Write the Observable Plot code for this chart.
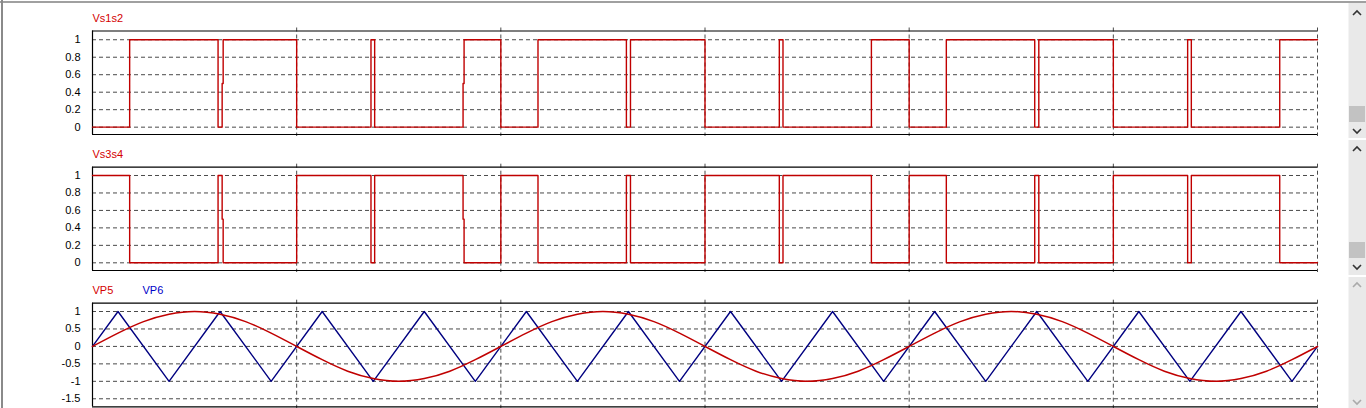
<!DOCTYPE html>
<html>
<head>
<meta charset="utf-8">
<script src="https://cdn.jsdelivr.net/npm/d3@7"></script>
<script src="https://cdn.jsdelivr.net/npm/@observablehq/plot@0.6"></script>
<style>
  html, body { margin: 0; padding: 0; background: #fff; width: 1366px; height: 408px; overflow: hidden; }
  .panel { position: absolute; left: 0; }
  .border-top { position: absolute; left: 0; top: 1px; width: 1366px; height: 2px; background: #a0a0a0; }
  .border-left { position: absolute; left: 1px; top: 0; width: 2px; height: 408px; background: #8a8a8a; }
  .sb { position: absolute; left: 1348px; width: 17px; background: #e9e9e9; border-left: 1px solid #f4f4f4; }
  .thumb { position: absolute; left: 1349px; width: 16px; height: 16px; background: #c2c2c2; }
  .arrow { position: absolute; left: 1350px; }
</style>
</head>
<body>
<div class="border-top"></div>
<div class="border-left"></div>
<div id="p1" class="panel" style="top:0px"></div>
<div id="p2" class="panel" style="top:136px"></div>
<div id="p3" class="panel" style="top:272px"></div>
<div class="sb" style="top:3px;height:135px"></div>
<div class="sb" style="top:140px;height:135px"></div>
<div class="sb" style="top:277px;height:131px"></div>
<div class="thumb" style="top:106px"></div>
<div class="thumb" style="top:242px"></div>
<svg class="arrow" style="top:9px" width="14" height="8"><polyline points="3,6 7,2 11,6" fill="none" stroke="#333" stroke-width="1.6"/></svg>
<svg class="arrow" style="top:127px" width="14" height="8"><polyline points="3,2 7,6 11,2" fill="none" stroke="#333" stroke-width="1.6"/></svg>
<svg class="arrow" style="top:145px" width="14" height="8"><polyline points="3,6 7,2 11,6" fill="none" stroke="#333" stroke-width="1.6"/></svg>
<svg class="arrow" style="top:263px" width="14" height="8"><polyline points="3,2 7,6 11,2" fill="none" stroke="#333" stroke-width="1.6"/></svg>
<svg class="arrow" style="top:281px" width="14" height="8"><polyline points="3,6 7,2 11,6" fill="none" stroke="#aaa" stroke-width="1.6"/></svg>
<svg class="arrow" style="top:398px" width="14" height="8"><polyline points="3,2 7,6 11,2" fill="none" stroke="#aaa" stroke-width="1.6"/></svg>
<script>
// ---- data (time in ms, 3 cycles of the reference sine) ----
const gridTimes = [10, 20, 30, 40, 50, 60];

// Vs1s2 switching edges: [time, level] (level held until next edge)
const vs1s2Time = [0, 1.82, 6.15, 6.35, 6.40, 10, 13.64, 13.82, 18.15, 18.20, 20,
  21.82, 26.15, 26.35, 30, 33.64, 33.82, 38.15, 40,
  41.82, 46.15, 46.35, 50, 53.64, 53.82, 58.15, 60];
const vs1s2Level = [0, 1, 0, 0.5, 1, 0, 1, 0, 0.5, 1, 0,
  1, 0, 1, 0, 1, 0, 1, 0,
  1, 0, 1, 0, 1, 0, 1, 1];

// Vs3s4 switching edges
const vs3s4Time = [0, 1.82, 6.15, 6.35, 6.40, 10, 13.64, 13.82, 18.15, 18.20, 20,
  21.82, 26.15, 26.35, 30, 33.64, 33.82, 38.15, 40,
  41.82, 46.15, 46.35, 50, 53.64, 53.82, 58.15, 60];
const vs3s4Level = [1, 0, 1, 0.5, 0, 1, 0, 1, 0.5, 0, 1,
  0, 1, 0, 1, 0, 1, 0, 1,
  0, 1, 0, 1, 0, 1, 0, 0];

// VP5 (reference sine), read every 1.25 ms
const vp5Time = [0,1.25,2.5,3.75,5,6.25,7.5,8.75,10,11.25,12.5,13.75,15,16.25,17.5,18.75,
  20,21.25,22.5,23.75,25,26.25,27.5,28.75,30,31.25,32.5,33.75,35,36.25,37.5,38.75,
  40,41.25,42.5,43.75,45,46.25,47.5,48.75,50,51.25,52.5,53.75,55,56.25,57.5,58.75,60];
const vp5Value = [0,0.38,0.71,0.92,1,0.92,0.71,0.38,0,-0.38,-0.71,-0.92,-1,-0.92,-0.71,-0.38,
  0,0.38,0.71,0.92,1,0.92,0.71,0.38,0,-0.38,-0.71,-0.92,-1,-0.92,-0.71,-0.38,
  0,0.38,0.71,0.92,1,0.92,0.71,0.38,0,-0.38,-0.71,-0.92,-1,-0.92,-0.71,-0.38,0];

// VP6 (triangular carrier) vertices
const vp6Time = [0,1.25,3.75,6.25,8.75,11.25,13.75,16.25,18.75,21.25,23.75,26.25,28.75,
  31.25,33.75,36.25,38.75,41.25,43.75,46.25,48.75,51.25,53.75,56.25,58.75,60];
const vp6Value = [0,1,-1,1,-1,1,-1,1,-1,1,-1,1,-1,1,-1,1,-1,1,-1,1,-1,1,-1,1,-1,0];

const pwmTicks = [0, 0.2, 0.4, 0.6, 0.8, 1];
const sigTicks = [-1.5, -1, -0.5, 0, 0.5, 1];

// ---- styling ----
const RED = "#c00000";
const BLUE = "#000080";
const GRID = "#4a4a4a";
const font = {fontFamily: "'Liberation Sans', Arial, sans-serif", fontSize: "11px", color: "#000", background: "transparent"};

function toRows(ts, vs) { return ts.map((t, i) => ({t, v: vs[i]})); }

function panel({yDomain, ticks, series, labels, marginTop, marginBottom}) {
  const [y0, y1] = yDomain;
  return Plot.plot({
    width: 1340,
    height: 136,
    marginLeft: 92,
    marginRight: 23,
    marginTop,
    marginBottom,
    style: font,
    x: {domain: [0, 60], axis: null},
    y: {domain: yDomain, ticks, tickSize: 0, tickPadding: 12, tickFormat: d => String(d), label: null},
    marks: [
      Plot.ruleY(ticks, {stroke: GRID, strokeDasharray: "4,3", strokeWidth: 1}),
      Plot.ruleX(gridTimes, {stroke: GRID, strokeDasharray: "4,3", strokeWidth: 1, insetTop: -3, insetBottom: -3}),
      Plot.ruleY([y0, y1], {stroke: "#000", strokeWidth: 1.2}),
      Plot.ruleX([0], {stroke: "#000", strokeWidth: 1.2}),
      ...series,
      ...labels.map(l => Plot.text([l.text], {frameAnchor: "top-left", dx: l.dx, dy: -9, textAnchor: "start", lineAnchor: "bottom", fill: l.color, fontSize: 11}))
    ]
  });
}

document.getElementById("p1").append(panel({
  yDomain: [-0.084, 1.1], ticks: pwmTicks, marginTop: 30.5, marginBottom: 2,
  series: [Plot.line(toRows(vs1s2Time, vs1s2Level), {x: "t", y: "v", curve: "step-after", stroke: RED, strokeWidth: 1.4})],
  labels: [{text: "Vs1s2", dx: 0, color: "#d40000"}]
}));

document.getElementById("p2").append(panel({
  yDomain: [-0.088, 1.095], ticks: pwmTicks, marginTop: 30.7, marginBottom: 2,
  series: [Plot.line(toRows(vs3s4Time, vs3s4Level), {x: "t", y: "v", curve: "step-after", stroke: RED, strokeWidth: 1.4})],
  labels: [{text: "Vs3s4", dx: 0, color: "#d40000"}]
}));

document.getElementById("p3").append(panel({
  yDomain: [-1.73, 1.238], ticks: sigTicks, marginTop: 30.7, marginBottom: 1.7,
  series: [
    Plot.line(toRows(vp6Time, vp6Value), {x: "t", y: "v", stroke: BLUE, strokeWidth: 1.4}),
    Plot.line(toRows(vp5Time, vp5Value), {x: "t", y: "v", curve: "natural", stroke: RED, strokeWidth: 1.5})
  ],
  labels: [{text: "VP5", dx: 0, color: "#d40000"}, {text: "VP6", dx: 50, color: "#0000c8"}]
}));
</script>
</body>
</html>
